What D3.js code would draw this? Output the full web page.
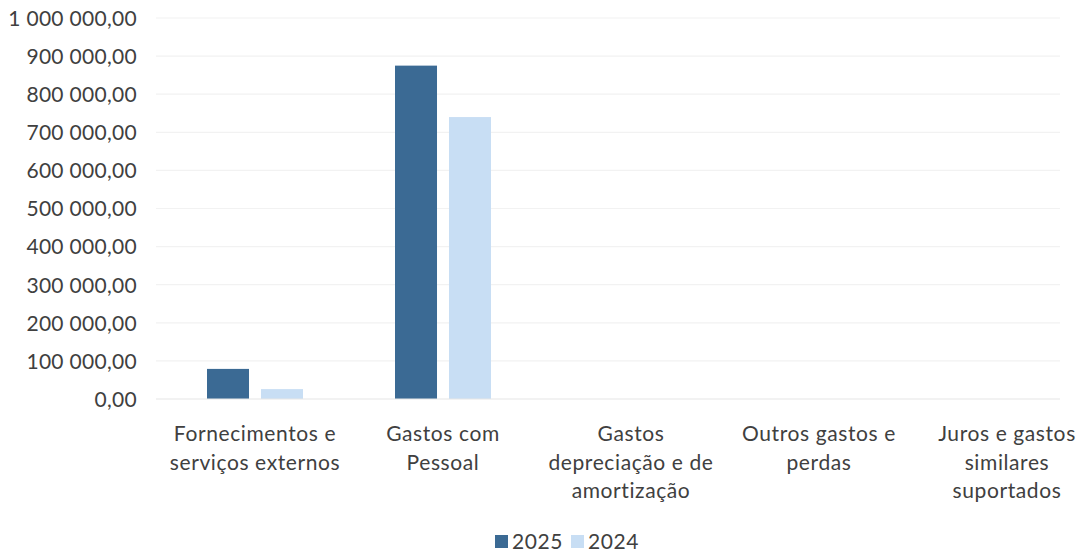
<!DOCTYPE html>
<html><head><meta charset="utf-8">
<script src="https://cdn.jsdelivr.net/npm/d3@7"></script>
<style>body{margin:0;background:#fff;overflow:hidden}svg{display:block}</style>
</head><body><svg id="c" width="1082" height="555"></svg>
<script>
const categories = [
  ["Fornecimentos e","serviços externos"],
  ["Gastos com","Pessoal"],
  ["Gastos","depreciação e de","amortização"],
  ["Outros gastos e","perdas"],
  ["Juros e gastos","similares","suportados"]
];
const series = ["2025","2024"];
const values2025 = [79000, 875000, 0, 0, 0];
const values2024 = [26000, 740000, 0, 0, 0];
const yTicks = [0,100000,200000,300000,400000,500000,600000,700000,800000,900000,1000000];
const colors = ["#3b6a94","#c8def4"];

const svg = d3.select("#c");
const m = {left:161, right:1101, top:18, bottom:399};
const font = "Lato, 'Open Sans', sans-serif";
const fs = 21;
const x = d3.scaleBand().domain(d3.range(categories.length)).range([m.left,m.right]).paddingInner(0).paddingOuter(0);
const inner = d3.scaleBand().domain(series).range([46, 142]).paddingInner(0.222);
const y = d3.scaleLinear().domain([0,1000000]).range([m.bottom,m.top]);

const fmt = v => { const s = d3.format(",.2f")(v); return s.replace(/,/g," ").replace(/\.(\d\d)$/,",$1"); };

svg.append("g").selectAll("line").data(yTicks.slice(1)).join("line")
  .attr("x1",m.left-5).attr("x2",1060).attr("y1",d=>y(d)).attr("y2",d=>y(d))
  .attr("stroke","#f2f2f2").attr("stroke-width",1.2);

const yAxis = d3.axisLeft(y).tickValues(yTicks).tickFormat(fmt).tickSize(0).tickPadding(0);
const ya = svg.append("g").attr("transform","translate(137,0)").call(yAxis);
ya.select(".domain").remove();
ya.selectAll("text").attr("font-family",font).attr("font-size",fs).attr("fill","#404040").attr("dy","0.35em").attr("letter-spacing","0.3px");

const data = categories.map((c,i)=>[values2025[i], values2024[i]]);
const g = svg.append("g");
data.forEach((vals,i)=>{
  g.selectAll(null).data(vals).join("rect")
    .attr("x",(d,j)=>x(i)+inner(series[j]))
    .attr("width",inner.bandwidth())
    .attr("y",d=>y(d)).attr("height",d=>y(0)-y(d))
    .attr("fill",(d,j)=>colors[j]);
});

svg.append("line").attr("x1",m.left-5).attr("x2",1060).attr("y1",y(0)).attr("y2",y(0)).attr("stroke","#e6e6e6").attr("stroke-width",1.2);

const xl = svg.append("g");
categories.forEach((lines,i)=>{
  const t = xl.append("text").attr("text-anchor","middle").attr("font-family",font).attr("font-size",fs).attr("fill","#404040").attr("letter-spacing","0.6px");
  lines.forEach((ln,k)=>t.append("tspan").attr("x",x(i)+x.bandwidth()/2).attr("y",441+k*28.5).text(ln));
});

const lg = svg.append("g");
const items = [{n:"2025",c:colors[0],x:495},{n:"2024",c:colors[1],x:571}];
items.forEach(it=>{
  lg.append("rect").attr("x",it.x).attr("y",535).attr("width",13).attr("height",13).attr("fill",it.c);
  lg.append("text").attr("x",it.x+17).attr("y",549).attr("font-family",font).attr("font-size",fs).attr("fill","#404040").attr("letter-spacing","0.6px").text(it.n);
});
</script></body></html>
